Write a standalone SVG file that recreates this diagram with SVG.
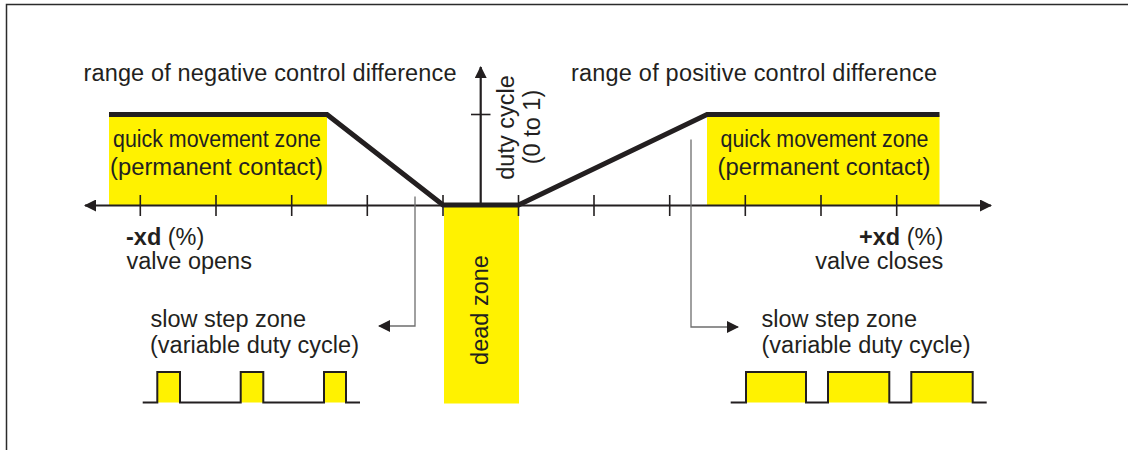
<svg xmlns="http://www.w3.org/2000/svg" width="1128" height="450" viewBox="0 0 1128 450">
  <style>
    text { font-family: "Liberation Sans", Arial, sans-serif; fill: #231f20; font-size: 23.5px; }
    .zone { fill: #fff200; }
    .tick { stroke: #231f20; stroke-width: 1.6; }
    .axis { stroke: #231f20; stroke-width: 2.2; fill: none; }
    .curve { stroke: #231f20; stroke-width: 5; fill: none; stroke-linejoin: miter; }
    .pulse { stroke: #231f20; stroke-width: 2; fill: none; }
    .conn { stroke: #6e6e6e; stroke-width: 1.3; fill: none; }
    .q { font-size: 23.5px; }
    .b { font-weight: bold; }
  </style>
  <defs>
    <marker id="arr" viewBox="0 0 12 12" refX="11" refY="6" markerWidth="12" markerHeight="12" markerUnits="userSpaceOnUse" orient="auto-start-reverse">
      <path d="M0,0 L12,6 L0,12 z" fill="#231f20"/>
    </marker>
  </defs>

  <rect width="1128" height="450" fill="#ffffff"/>
  <g id="frame">
    <path d="M6.5,450 V4.5 H1128" fill="none" stroke="#2b2b2b" stroke-width="1.5"/>
  </g>

  <g id="zones">
    <rect id="quick-neg-zone" class="zone" x="109" y="114.5" width="218" height="91"/>
    <rect id="quick-pos-zone" class="zone" x="707" y="114.5" width="232.5" height="91"/>
    <rect id="dead-zone-area" class="zone" x="444" y="205" width="75" height="198.5"/>
  </g>

  <g id="axes">
    <line class="axis" x1="85" y1="205.5" x2="991" y2="205.5" marker-start="url(#arr)" marker-end="url(#arr)"/>
    <line class="axis" x1="480.7" y1="205.5" x2="480.7" y2="67" marker-end="url(#arr)"/>
    <line class="tick" x1="471" y1="114.5" x2="490.5" y2="114.5"/>
    <g id="ticks">
      <line class="tick" x1="140.3" y1="195" x2="140.3" y2="216"/>
      <line class="tick" x1="216" y1="195" x2="216" y2="216"/>
      <line class="tick" x1="291.7" y1="195" x2="291.7" y2="216"/>
      <line class="tick" x1="367.3" y1="195" x2="367.3" y2="216"/>
      <line class="tick" x1="443" y1="195" x2="443" y2="216"/>
      <line class="tick" x1="518.5" y1="195" x2="518.5" y2="216"/>
      <line class="tick" x1="594" y1="195" x2="594" y2="216"/>
      <line class="tick" x1="669.7" y1="195" x2="669.7" y2="216"/>
      <line class="tick" x1="745.3" y1="195" x2="745.3" y2="216"/>
      <line class="tick" x1="821" y1="195" x2="821" y2="216"/>
      <line class="tick" x1="896.7" y1="195" x2="896.7" y2="216"/>
    </g>
  </g>

  <g id="duty-curve">
    <path class="curve" d="M109,114.5 H327 L443,205 H518.5 L707,114.5 H939.5"/>
  </g>

  <g id="connectors">
    <path class="conn" d="M415,196.5 V326 H379" marker-end="url(#arr)"/>
    <path class="conn" d="M691,139.5 V327 H738" marker-end="url(#arr)"/>
  </g>

  <g id="label-neg">
    <text x="83.5" y="81" textLength="373">range of negative control difference</text>
  </g>
  <g id="label-pos">
    <text x="571" y="81" textLength="366">range of positive control difference</text>
  </g>
  <g id="duty-label">
    <text transform="translate(514,127.5) rotate(-90)" text-anchor="middle">duty cycle</text>
    <text transform="translate(540,127) rotate(-90)" text-anchor="middle">(0 to 1)</text>
  </g>
  <g id="quick-neg">
    <text class="q" x="217" y="147" text-anchor="middle" textLength="208" lengthAdjust="spacingAndGlyphs">quick movement zone</text>
    <text class="q" x="216.5" y="175" text-anchor="middle" textLength="213" lengthAdjust="spacingAndGlyphs">(permanent contact)</text>
  </g>
  <g id="quick-pos">
    <text class="q" x="824.5" y="147" text-anchor="middle" textLength="208" lengthAdjust="spacingAndGlyphs">quick movement zone</text>
    <text class="q" x="824" y="175" text-anchor="middle" textLength="213" lengthAdjust="spacingAndGlyphs">(permanent contact)</text>
  </g>
  <g id="dead-zone">
    <text transform="translate(488,310) rotate(-90)" text-anchor="middle">dead zone</text>
  </g>
  <g id="neg-xd">
    <text x="126" y="245"><tspan class="b">-xd</tspan> (%)</text>
    <text x="126.5" y="269">valve opens</text>
  </g>
  <g id="pos-xd">
    <text x="943.3" y="245" text-anchor="end"><tspan class="b">+xd</tspan> (%)</text>
    <text x="943.3" y="269" text-anchor="end">valve closes</text>
  </g>

  <g id="slow-neg">
    <text x="150.5" y="326.5">slow step zone</text>
    <text x="150" y="352.5">(variable duty cycle)</text>
    <rect class="zone" x="157.3" y="372" width="22.7" height="30.5"/>
    <rect class="zone" x="240.7" y="372" width="22.6" height="30.5"/>
    <rect class="zone" x="324" y="372" width="22" height="30.5"/>
    <path class="pulse" d="M142.7,402.5 H157.3 V372 H180 V402.5 H240.7 V372 H263.3 V402.5 H324 V372 H346 V402.5 H360"/>
  </g>
  <g id="slow-pos">
    <text x="761.5" y="326.5">slow step zone</text>
    <text x="761.5" y="352.5">(variable duty cycle)</text>
    <rect class="zone" x="746" y="372" width="60" height="30.5"/>
    <rect class="zone" x="828" y="372" width="61.3" height="30.5"/>
    <rect class="zone" x="911.3" y="372" width="61.4" height="30.5"/>
    <path class="pulse" d="M730.7,402.5 H746 V372 H806 V402.5 H828 V372 H889.3 V402.5 H911.3 V372 H972.7 V402.5 H986.7"/>
  </g>
</svg>
